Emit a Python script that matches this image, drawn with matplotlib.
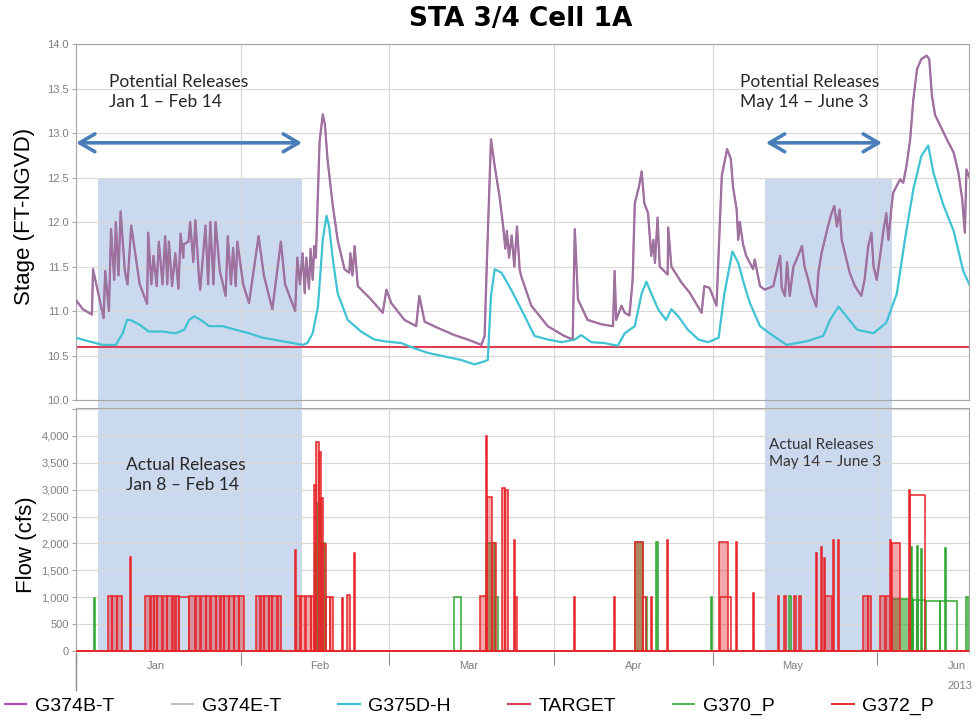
import matplotlib
matplotlib.use("Agg")
import matplotlib.dates as mdates
import matplotlib.pyplot as plt
import numpy as np
from matplotlib.colors import to_rgba
from matplotlib.patches import Rectangle
from matplotlib.ticker import FuncFormatter, MultipleLocator, NullFormatter
from matplotlib.transforms import blended_transform_factory

plt.rcParams["font.family"] = ["Liberation Sans", "DejaVu Sans"]

# all x values are days since Jan 1 2013
t0 = mdates.date2num(np.datetime64("2013-01-01"))
end_day = 168.3

# G374B-T / G374E-T stage (ft NGVD)
g374_points = [
    (0.0, 11.12), (1.3, 11.02), (3.0, 10.96), (3.2, 11.47), (5.2, 10.92), (5.5, 11.45),
    (6.2, 11.00), (6.6, 11.92), (7.2, 11.35), (7.5, 12.00), (8.0, 11.40), (8.4, 12.12),
    (9.2, 11.45), (9.7, 11.30), (10.4, 11.96), (12.0, 11.30), (13.4, 11.08), (13.6, 11.88),
    (14.2, 11.30), (14.6, 11.62), (15.2, 11.28), (15.6, 11.78), (16.3, 11.30), (16.8, 11.84),
    (17.2, 11.30), (17.5, 11.78), (18.1, 11.28), (18.7, 11.65), (19.3, 11.25), (19.7, 11.87),
    (20.2, 11.60), (20.3, 11.75), (21.2, 11.78), (21.5, 12.00), (22.1, 11.55), (22.5, 12.02),
    (23.2, 11.35), (23.4, 11.24), (24.4, 11.96), (24.9, 11.30), (25.3, 12.00), (25.9, 11.30),
    (26.3, 12.00), (27.1, 11.45), (28.2, 11.17), (28.6, 11.84), (29.2, 11.30), (29.6, 11.71),
    (30.1, 11.28), (30.4, 11.78), (31.5, 11.30), (32.6, 11.09), (34.4, 11.84), (35.4, 11.40),
    (37.0, 11.02), (38.6, 11.78), (39.4, 11.30), (41.3, 11.00), (41.7, 11.60), (42.2, 11.30),
    (42.7, 11.65), (43.1, 11.20), (43.4, 11.60), (43.9, 11.25), (44.2, 11.70), (44.6, 11.35),
    (44.9, 11.73), (45.2, 11.60), (45.9, 12.90), (46.5, 13.21), (46.9, 13.10), (47.4, 12.70),
    (48.4, 12.18), (49.3, 11.80), (50.6, 11.47), (51.5, 11.43), (51.7, 11.65), (52.1, 11.40),
    (52.5, 11.73), (53.1, 11.28), (55.6, 11.13), (57.8, 10.98), (58.5, 11.24), (59.4, 11.09),
    (61.9, 10.90), (64.1, 10.83), (64.7, 11.17), (65.7, 10.88), (68.2, 10.81), (71.3, 10.73),
    (73.8, 10.68), (76.4, 10.62), (77.0, 10.72), (77.4, 11.50), (78.2, 12.93), (78.9, 12.63),
    (79.8, 12.29), (80.5, 11.95), (80.9, 11.70), (81.2, 11.90), (81.6, 11.60), (82.1, 11.85),
    (82.6, 11.50), (83.1, 11.95), (83.6, 11.47), (83.9, 11.39), (85.8, 11.06), (88.9, 10.83),
    (92.0, 10.72), (93.6, 10.68), (94.0, 11.92), (94.6, 11.13), (96.4, 10.90), (99.1, 10.85),
    (101.2, 10.83), (101.5, 11.45), (101.8, 10.90), (102.8, 11.06), (103.4, 10.98), (104.3, 10.95),
    (104.9, 11.35), (105.3, 12.21), (106.1, 12.40), (106.6, 12.57), (107.1, 12.21), (107.8, 12.10),
    (108.4, 11.62), (108.8, 11.80), (109.1, 11.54), (109.6, 12.05), (110.0, 11.50), (111.5, 11.41),
    (111.6, 11.94), (112.2, 11.50), (114.1, 11.32), (115.6, 11.21), (117.9, 10.98), (118.4, 11.28),
    (119.4, 11.26), (120.7, 11.06), (121.1, 11.65), (121.7, 12.52), (122.7, 12.82), (123.4, 12.71),
    (123.8, 12.40), (124.5, 12.14), (124.8, 11.80), (125.1, 12.00), (125.7, 11.75), (126.3, 11.62),
    (127.6, 11.47), (127.9, 11.58), (128.9, 11.28), (129.8, 11.24), (131.4, 11.28), (132.7, 11.62),
    (133.0, 11.26), (133.6, 11.17), (134.0, 11.55), (134.5, 11.17), (135.2, 11.50), (135.8, 11.58),
    (136.8, 11.73), (137.3, 11.50), (138.0, 11.35), (138.6, 11.20), (139.5, 11.05), (139.9, 11.43),
    (140.5, 11.65), (141.1, 11.80), (141.7, 11.95), (142.4, 12.10), (142.9, 12.18), (143.4, 11.95),
    (143.9, 12.14), (144.3, 11.80), (144.9, 11.65), (145.8, 11.43), (146.8, 11.28), (148.0, 11.17),
    (148.6, 11.35), (149.3, 11.73), (149.9, 11.88), (150.3, 11.50), (150.9, 11.35), (151.6, 11.65),
    (152.1, 11.88), (152.7, 12.10), (153.1, 11.80), (153.7, 12.18), (154.0, 12.33), (155.3, 12.48),
    (155.9, 12.44), (156.5, 12.63), (157.2, 12.93), (157.8, 13.38), (158.5, 13.72), (159.3, 13.83),
    (160.3, 13.87), (160.8, 13.83), (161.3, 13.42), (161.9, 13.20), (162.9, 13.08), (164.1, 12.93),
    (165.4, 12.78), (166.3, 12.55), (167.0, 12.26), (167.5, 11.88), (167.8, 12.59), (168.5, 12.48),
]

# G375D-H stage (ft NGVD)
g375_points = [
    (0.0, 10.70), (2.4, 10.66), (5.0, 10.62), (7.5, 10.62), (8.8, 10.75), (9.6, 10.90),
    (10.2, 10.90), (11.9, 10.85), (13.7, 10.77), (16.3, 10.77), (18.8, 10.75), (20.4, 10.79),
    (21.3, 10.90), (22.3, 10.94), (23.5, 10.90), (25.1, 10.83), (27.6, 10.83), (30.1, 10.79),
    (32.6, 10.75), (35.2, 10.70), (39.0, 10.66), (42.7, 10.62), (43.6, 10.64), (44.6, 10.75),
    (45.6, 11.05), (46.5, 11.80), (47.2, 12.07), (47.7, 11.95), (48.4, 11.58), (49.3, 11.20),
    (51.2, 10.90), (53.7, 10.77), (56.2, 10.68), (58.1, 10.66), (61.3, 10.64), (63.8, 10.58),
    (66.3, 10.53), (69.4, 10.49), (72.6, 10.45), (75.1, 10.40), (76.7, 10.43), (77.6, 10.45),
    (78.2, 11.17), (78.9, 11.47), (80.2, 11.43), (82.0, 11.24), (84.5, 10.95), (86.4, 10.72),
    (88.9, 10.68), (91.5, 10.65), (94.0, 10.68), (95.2, 10.73), (97.1, 10.65), (99.6, 10.64),
    (102.1, 10.61), (103.4, 10.75), (105.3, 10.83), (106.6, 11.20), (107.5, 11.33), (108.4, 11.20),
    (109.7, 11.02), (111.2, 10.90), (112.2, 11.02), (113.5, 10.94), (115.3, 10.79), (117.3, 10.68),
    (119.1, 10.65), (121.1, 10.70), (122.2, 11.20), (123.7, 11.67), (124.8, 11.54), (126.0, 11.28),
    (127.0, 11.09), (128.9, 10.83), (130.7, 10.75), (133.9, 10.62), (137.7, 10.66), (140.8, 10.72),
    (142.1, 10.90), (143.7, 11.05), (145.2, 10.94), (147.2, 10.79), (150.3, 10.75), (152.7, 10.87),
    (154.7, 11.20), (156.2, 11.80), (157.8, 12.37), (159.3, 12.74), (160.6, 12.86), (161.6, 12.55),
    (163.4, 12.20), (165.4, 11.90), (167.2, 11.45), (168.5, 11.28),
]

target_stage = 10.6

# pump flows (cfs) as (on day, off day, flow); "held" runs are steady flows
g372_pulses = [
    (6.1, 6.7, 1030), (6.8, 7.7, 1030), (7.8, 8.6, 1030), (10.2, 10.35, 1740),
    (13.0, 14.0, 1030), (14.1, 14.6, 1030), (14.7, 15.2, 1030), (15.3, 16.2, 1030),
    (16.3, 17.1, 1030), (17.2, 18.1, 1030), (18.2, 18.7, 1030), (18.8, 19.4, 1030),
    (21.3, 22.5, 1030), (22.6, 23.4, 1030), (23.5, 24.4, 1030), (24.5, 25.3, 1030),
    (25.4, 26.3, 1030), (26.4, 27.2, 1030), (27.3, 27.8, 1030), (27.9, 28.8, 1030),
    (28.9, 29.7, 1030), (29.8, 30.7, 1030), (30.8, 31.7, 1030),
    (33.9, 34.7, 1030), (34.8, 35.4, 1030), (35.5, 36.3, 1030), (36.4, 36.9, 1030),
    (37.0, 37.9, 1030), (38.0, 38.6, 1030), (41.3, 41.5, 1870),
    (41.5, 42.3, 1030), (42.4, 43.2, 1030), (43.3, 44.2, 1030), (44.3, 44.9, 1030),
    (44.9, 45.3, 3090), (45.3, 45.7, 3890), (45.7, 46.1, 3700), (46.1, 46.5, 2850),
    (46.5, 47.1, 1990), (47.9, 48.5, 1000),
    (50.1, 50.3, 980), (51.1, 51.6, 1050), (52.3, 52.5, 1820),
    (76.2, 77.2, 1030), (77.2, 77.5, 4000), (77.5, 78.3, 2870), (78.3, 79.2, 2000),
    (80.3, 80.8, 3030), (80.9, 81.4, 2990), (82.5, 82.8, 2070),
    (93.8, 94.0, 1000), (101.4, 101.6, 1000),
    (105.3, 106.9, 2020), (108.3, 108.5, 1000), (111.4, 111.6, 2060),
    (121.1, 122.9, 2020), (124.4, 124.6, 2020),
    (127.5, 127.7, 1070), (132.2, 132.5, 1030), (133.5, 133.8, 1030), (135.4, 135.7, 1030),
    (136.3, 136.6, 1030), (139.5, 139.7, 1820), (140.4, 140.6, 1940), (141.0, 141.2, 1720),
    (141.2, 142.4, 1030), (142.6, 142.8, 2070), (143.6, 143.8, 2070),
    (148.4, 149.2, 1030), (149.3, 149.9, 1030), (151.5, 152.5, 1030), (152.6, 153.7, 1030),
    (153.4, 153.6, 2070), (153.7, 155.3, 2000), (156.9, 157.2, 2990),
]
g372_held = [
    (19.4, 21.3, 1000), (47.1, 47.9, 1000), (82.8, 83.1, 1000), (106.9, 107.5, 1000),
    (121.4, 123.5, 1000), (157.2, 160.0, 2900),
]
g370_pulses = [
    (45.1, 45.5, 1950), (45.5, 46.1, 2750), (46.1, 47.0, 2000), (77.3, 78.9, 2000),
    (105.3, 106.9, 2020), (109.3, 109.6, 2020), (153.7, 157.8, 960),
    (157.4, 157.6, 1940), (158.4, 158.6, 1960), (159.3, 159.5, 1900), (163.7, 163.9, 1920),
]
g370_held = [
    (3.3, 3.5, 980), (71.3, 72.5, 1000), (78.9, 79.5, 1000), (107.4, 107.6, 1000),
    (119.7, 119.9, 1000), (134.4, 134.7, 1030), (157.8, 158.5, 950), (158.6, 160.0, 950),
    (160.1, 162.8, 930), (162.9, 166.0, 930), (167.7, 168.1, 1000),
]

# release windows
potential_windows = [(0.0, 42.6), (130.0, 151.9)]
actual_windows = [(4.2, 42.6), (129.8, 153.8)]
potential_notes = ["Potential Releases\nJan 1 – Feb 14", "Potential Releases\nMay 14 – June 3"]
actual_notes = ["Actual Releases\nJan 8 – Feb 14", "Actual Releases\nMay 14 – June 3"]

c_b, c_e, c_d = "#b050b0", "#8c8c8c", "#3fc2d2"
c_target, c_370, c_372 = "#dd3d55", "#2fa82f", "#e8262b"

fig = plt.figure(figsize=(9.76, 7.23), dpi=100)
ax1 = fig.add_axes([0.0779, 0.4467, 0.9150, 0.4924])
ax2 = fig.add_axes([0.0779, 0.0978, 0.9150, 0.3379], sharex=ax1)

for ax in (ax1, ax2):
    ax.set_facecolor("none")
    for sp in ax.spines.values():
        sp.set_color("#a6a6a6")
    ax.grid(True, color="#d9d9d9", lw=0.9)
    ax.set_axisbelow(True)
    ax.tick_params(axis="y", labelsize=8, labelcolor="#7f7f7f", color="#a6a6a6", length=3, pad=2)

# stage panel
days, vals = map(np.array, zip(*g374_points))
ax1.plot(t0 + days, vals, color=c_b, lw=1.6, label="G374B-T", zorder=3)
ax1.plot(t0 + days, vals, color=c_e, lw=1.1, alpha=0.7, label="G374E-T", zorder=4)
days, vals = map(np.array, zip(*g375_points))
ax1.plot(t0 + days, vals, color=c_d, lw=1.6, label="G375D-H", zorder=3)
ax1.axhline(target_stage, color=c_target, lw=1.5, label="TARGET", zorder=2)

ax1.set_ylim(10.0, 14.0)
ax1.yaxis.set_major_locator(MultipleLocator(0.5))
ax1.yaxis.set_major_formatter(FuncFormatter(lambda v, p: f"{v:.1f}"))
ax1.tick_params(axis="x", which="both", length=0, labelbottom=False)

# flow panel
def pulse_bars(ax, pulses, color, fill_alpha, z):
    on, off, q = map(np.array, zip(*pulses))
    face = to_rgba(color, fill_alpha) if fill_alpha else "none"
    ax.bar(t0 + on, q, width=off - on, align="edge", facecolor=face,
           edgecolor=color, linewidth=1.1, zorder=z)

ax2.axhline(0, color=c_370, lw=1.2, label="G370_P", zorder=2)
pulse_bars(ax2, g370_pulses, c_370, 0.6, 3)
pulse_bars(ax2, g370_held, c_370, 0, 3)
pulse_bars(ax2, g372_pulses, c_372, 0.4, 4)
pulse_bars(ax2, g372_held, c_372, 0, 4)
ax2.axhline(0, color=c_372, lw=1.4, label="G372_P", zorder=4)

ax2.set_ylim(-25, 4520)
ax2.yaxis.set_major_locator(MultipleLocator(500))
ax2.yaxis.set_major_formatter(FuncFormatter(lambda v, p: f"{v:,.0f}" if v <= 4000 else ""))
ax2.spines["bottom"].set_visible(False)

ax2.set_xlim(t0, t0 + end_day)
ax2.xaxis.set_major_locator(mdates.MonthLocator())
ax2.xaxis.set_major_formatter(NullFormatter())
ax2.xaxis.set_minor_locator(mdates.MonthLocator(bymonthday=16))
ax2.xaxis.set_minor_formatter(mdates.DateFormatter("%b"))
ax2.tick_params(axis="x", which="major", length=9, color="#8c8c8c")
ax2.tick_params(axis="x", which="minor", length=0, pad=6, labelsize=8, labelcolor="#7f7f7f")

bt = blended_transform_factory(ax2.transData, ax2.transAxes)
ax2.plot([t0, t0], [-0.005, -0.155], transform=bt, color="#8c8c8c", lw=1, clip_on=False)
ax2.text(t0 + 166.6, -0.138, "2013", transform=bt, ha="center", va="center",
         fontsize=8, color="#7f7f7f")

# shaded actual-release windows spanning both panels
p1, p2 = ax1.get_position(), ax2.get_position()
y_top = p1.y0 + p1.height * (12.5 - 10.0) / 4.0
y_bot = p2.y0 + p2.height * 25 / 4545
ft = blended_transform_factory(ax1.transData, fig.transFigure)
for a, b in actual_windows:
    fig.add_artist(Rectangle((t0 + a, y_bot), b - a, y_top - y_bot, transform=ft,
                             facecolor="#cbd9ee", edgecolor="none", zorder=-1))

# potential-release arrows
for a, b in potential_windows:
    ax1.annotate("", xy=(t0 + b, 12.89), xytext=(t0 + a, 12.89),
                 arrowprops=dict(arrowstyle="<->,head_length=0.55,head_width=0.32",
                                 color="#4a7ebb", lw=2.6, shrinkA=0, shrinkB=0,
                                 mutation_scale=20), zorder=5)

note_style = dict(ha="left", va="top", family="Lato", linespacing=1.3)
ax1.text(t0 + 6.2, 13.66, potential_notes[0], fontsize=12.5, color="#262626", **note_style)
ax1.text(t0 + 125.1, 13.66, potential_notes[1], fontsize=12.5, color="#262626", **note_style)
ax2.text(t0 + 9.4, 3600, actual_notes[0], fontsize=12.5, color="#262626", **note_style)
ax2.text(t0 + 130.6, 3960, actual_notes[1], fontsize=11, color="#333333", **note_style)

fig.text(0.534, 0.974, "STA 3/4 Cell 1A", ha="center", va="center", fontsize=19,
         fontweight="bold", family="DejaVu Sans")
fig.text(0.025, 0.70, "Stage (FT-NGVD)", rotation=90, ha="center", va="center", fontsize=16)
fig.text(0.027, 0.246, "Flow (cfs)", rotation=90, ha="center", va="center", fontsize=16)

h1, l1 = ax1.get_legend_handles_labels()
h2, l2 = ax2.get_legend_handles_labels()
fig.legend(h1 + h2, l1 + l2, loc="lower left", bbox_to_anchor=(-0.003, 0.0, 0.968, 0.05),
           mode="expand", ncol=6, frameon=False, fontsize=14, handlelength=1.1,
           handletextpad=0.45, borderaxespad=0)

fig.savefig("out.png", dpi=100)
